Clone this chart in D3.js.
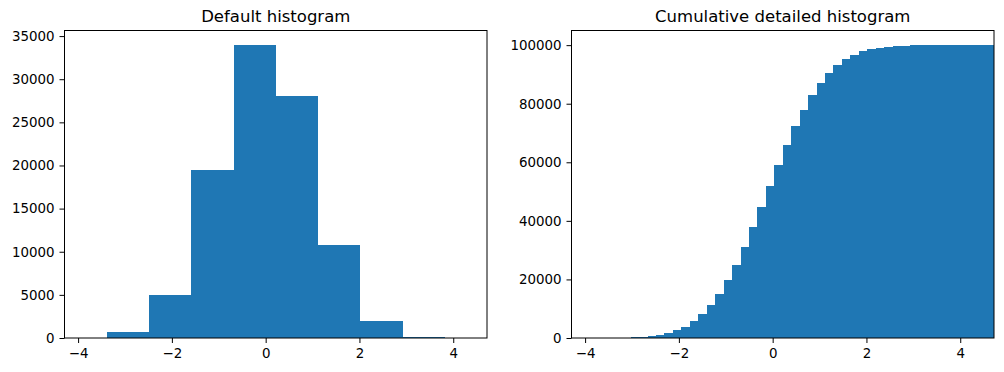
<!DOCTYPE html>
<html>
<head>
<meta charset="utf-8">
<script src="https://cdn.jsdelivr.net/npm/d3@7"></script>
<style>
  body { margin: 0; background: #fff; }
  svg { display: block; font-family: "DejaVu Sans", sans-serif; }
  .tick text { font-size: 13.4px; fill: #000; }
  .tick line, .domain { stroke: #000; }
</style>
</head>
<body>
<svg id="chart" width="1004" height="372"></svg>
<script>
// left panel: default histogram (10 bins)
const defaultEdges = [-4.29, -3.389, -2.488, -1.587, -0.686, 0.215, 1.116, 2.017, 2.918, 3.819, 4.72];
const defaultCounts = [30, 700, 5000, 19470, 33950, 28050, 10780, 1970, 140, 5];

// right panel: cumulative histogram (50 bins)
const cumulativeEdges = [
  -4.29, -4.11, -3.93, -3.749, -3.569, -3.389, -3.209, -3.029, -2.848, -2.668,
  -2.488, -2.308, -2.128, -1.947, -1.767, -1.587, -1.407, -1.227, -1.046, -0.866,
  -0.686, -0.506, -0.326, -0.145, 0.035, 0.215, 0.395, 0.575, 0.756, 0.936,
  1.116, 1.296, 1.476, 1.657, 1.837, 2.017, 2.197, 2.377, 2.558, 2.738,
  2.918, 3.098, 3.278, 3.459, 3.639, 3.819, 3.999, 4.179, 4.36, 4.54, 4.72
];
const cumulativeCounts = [
  1, 3, 8, 20, 45, 90, 150, 230, 340, 680,
  1140, 1820, 2730, 3760, 5800, 8200, 11280, 15030, 19800, 24900,
  31090, 37920, 44750, 51930, 59100, 65940, 72430, 77900, 83020, 87120,
  90540, 93270, 95320, 96690, 98050, 98740, 99080, 99420, 99760, 99820,
  99880, 99920, 99950, 99970, 99985, 99992, 99996, 99998, 99999, 100000
];

const xTicks = [-4, -2, 0, 2, 4];
const defaultYTicks = [0, 5000, 10000, 15000, 20000, 25000, 30000, 35000];
const cumulativeYTicks = [0, 20000, 40000, 60000, 80000, 100000];

const xDomain = [-4.29, 4.72];
const barColor = "#1f77b4";

const svg = d3.select("#chart");

function drawPanel({ left, right, top, bottom, title, edges, counts, yMax, yTicks }) {
  const x = d3.scaleLinear().domain(xDomain).range([left, right]);
  const y = d3.scaleLinear().domain([0, yMax]).range([bottom, top]);

  const g = svg.append("g");

  const bins = counts.map((c, i) => ({ x0: edges[i], x1: edges[i + 1], c }));

  g.selectAll("rect.bar")
    .data(bins)
    .enter()
    .append("rect")
    .attr("class", "bar")
    .attr("x", (d) => x(d.x0))
    .attr("y", (d) => y(d.c))
    .attr("width", (d) => x(d.x1) - x(d.x0))
    .attr("height", (d) => y(0) - y(d.c))
    .attr("fill", barColor)
    .attr("shape-rendering", "crispEdges");

  g.append("g")
    .attr("transform", `translate(0,${bottom})`)
    .call(d3.axisBottom(x).tickValues(xTicks).tickSize(5).tickPadding(5).tickSizeOuter(0).tickFormat(d3.format("")))
    .call((a) => a.select(".domain").remove());

  g.append("g")
    .attr("transform", `translate(${left},0)`)
    .call(d3.axisLeft(y).tickValues(yTicks).tickSize(5).tickPadding(5).tickSizeOuter(0).tickFormat(d3.format("d")))
    .call((a) => a.select(".domain").remove());

  g.selectAll(".tick text").attr("font-family", "DejaVu Sans");

  g.append("rect")
    .attr("x", left)
    .attr("y", top)
    .attr("width", right - left)
    .attr("height", bottom - top)
    .attr("fill", "none")
    .attr("stroke", "#000")
    .attr("stroke-width", 1);

  g.append("text")
    .attr("x", (left + right) / 2)
    .attr("y", top - 8.5)
    .attr("text-anchor", "middle")
    .attr("font-size", "16.5px")
    .attr("fill", "#000")
    .text(title);
}

drawPanel({
  left: 64.5, right: 487, top: 30.5, bottom: 338,
  title: "Default histogram",
  edges: defaultEdges, counts: defaultCounts,
  yMax: 33950 * 1.05, yTicks: defaultYTicks
});

drawPanel({
  left: 571.5, right: 994, top: 30.5, bottom: 338,
  title: "Cumulative detailed histogram",
  edges: cumulativeEdges, counts: cumulativeCounts,
  yMax: 100000 * 1.05, yTicks: cumulativeYTicks
});
</script>
</body>
</html>
